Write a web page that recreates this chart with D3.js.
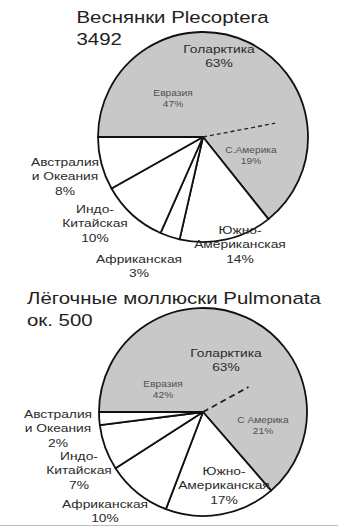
<!DOCTYPE html>
<html>
<head>
<meta charset="utf-8">
<script src="https://cdn.jsdelivr.net/npm/d3@7"></script>
<style>
  html, body { margin: 0; padding: 0; background: #fff; }
  svg { display: block; }
  text { font-family: "Liberation Sans", Arial, sans-serif; }
</style>
</head>
<body>
<svg id="chart" width="338" height="530"></svg>
<script>
// regions, clockwise from 9 o'clock
var regionLines = [
  ["Голарктика"],
  ["Южно-", "Американская"],
  ["Африканская"],
  ["Индо-", "Китайская"],
  ["Австралия", "и Океания"]
];
var plecopteraShares = [63, 14, 3, 10, 8];
var pulmonataShares = [63, 17, 10, 7, 2];

var plecopteraHolarctic = [47, 19];
var pulmonataHolarctic = [42, 21];
var plecopteraParts = ["Евразия", "С.Америка"];
var pulmonataParts = ["Евразия", "С Америка"];

var plecopteraTitle = ["Веснянки Plecoptera", "3492"];
var pulmonataTitle = ["Лёгочные моллюски Pulmonata", "ок. 500"];

var svg = d3.select("#chart");
var stretch = 1.2; // the lettering in the picture is set wide

var addText = function (g, x, y, str, size, color, anchor) {
  return g.append("text")
    .attr("transform", "translate(" + x + "," + y + ") scale(" + stretch + ",1)")
    .attr("text-anchor", anchor || "middle")
    .attr("font-size", size)
    .attr("fill", color)
    .text(str);
};

var drawPie = function (opt) {
  var r = opt.r;
  var g = svg.append("g").attr("transform", "translate(" + opt.cx + "," + opt.cy + ")");

  var pie = d3.pie()
    .sort(null)
    .startAngle(-Math.PI / 2)
    .endAngle(3 * Math.PI / 2);
  var arcs = pie(opt.shares);
  var arc = d3.arc().innerRadius(0).outerRadius(r);

  g.selectAll("path.slice")
    .data(arcs)
    .enter()
    .append("path")
    .attr("class", "slice")
    .attr("d", arc)
    .attr("fill", function (d, i) { return i === 0 ? "#c8c8c8" : "#fff"; })
    .attr("stroke", "#111")
    .attr("stroke-width", 1.8)
    .attr("stroke-linejoin", "round");

  // Eurasia / N. America split inside the Holarctic slice
  var split = d3.scaleLinear().domain([0, 100]).range([-Math.PI / 2, 3 * Math.PI / 2]);
  var a = split(opt.holarctic[0]);
  g.append("line")
    .attr("x1", 0)
    .attr("y1", 0)
    .attr("x2", Math.sin(a) * r * opt.dashLen)
    .attr("y2", -Math.cos(a) * r * opt.dashLen)
    .attr("stroke", "#222")
    .attr("stroke-width", opt.dashWidth)
    .attr("stroke-dasharray", opt.dash);

  // region labels
  arcs.forEach(function (d, i) {
    var p = opt.labelPos[i];
    var lines = regionLines[i].concat([opt.shares[i] + "%"]);
    lines.forEach(function (s, j) {
      addText(g, p[0], p[1] + j * 14.4, s, 11.5, "#2b2b2b");
    });
  });

  // Holarctic sub-parts
  opt.parts.forEach(function (name, i) {
    var p = opt.partPos[i];
    addText(g, p[0], p[1], name, 8.5, "#505050");
    addText(g, p[0], p[1] + 11, opt.holarctic[i] + "%", 8.5, "#505050");
  });

  // title
  opt.title.forEach(function (s, j) {
    addText(svg, opt.titleX, opt.titleY + j * 22.3, s, 17, "#222", "start");
  });
};

drawPie({
  cx: 203, cy: 137, r: 105,
  shares: plecopteraShares,
  holarctic: plecopteraHolarctic,
  parts: plecopteraParts,
  title: plecopteraTitle,
  titleX: 76.5, titleY: 22.7,
  dashLen: 0.7, dash: "4,3", dashWidth: 1.3,
  labelPos: [[16, -84], [37, 97], [-64, 126], [-108, 76], [-138, 29]],
  partPos: [[-30, -41], [48, 16]]
});

drawPie({
  cx: 203, cy: 412, r: 104,
  shares: pulmonataShares,
  holarctic: pulmonataHolarctic,
  parts: pulmonataParts,
  title: pulmonataTitle,
  titleX: 27, titleY: 304,
  dashLen: 0.5, dash: "6,4", dashWidth: 1.8,
  labelPos: [[23, -55], [21, 63], [-98, 96], [-124, 48], [-145, 6]],
  partPos: [[-40, -25], [60, 11]]
});

// thin rule along the bottom of the picture
svg.append("line")
  .attr("x1", 0).attr("x2", 338)
  .attr("y1", 525.5).attr("y2", 525.5)
  .attr("stroke", "#bdbdbd")
  .attr("stroke-width", 1);
</script>
</body>
</html>
